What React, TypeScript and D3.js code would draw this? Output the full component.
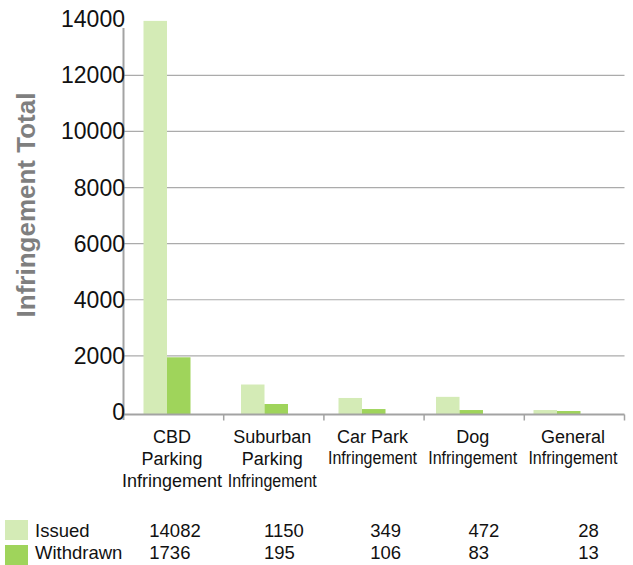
import * as d3 from 'd3'
import React from 'react'

const categories = ['CBD', 'Suburban', 'Car Park', 'Dog', 'General']
const categoryLines = [
  ['CBD', 'Parking', 'Infringement'],
  ['Suburban', 'Parking', 'Infringement'],
  ['Car Park', 'Infringement'],
  ['Dog', 'Infringement'],
  ['General', 'Infringement'],
]
const series = ['Issued', 'Withdrawn']
// bar heights as drawn in the picture
const issuedBars = [13940, 980, 500, 540, 70]
const withdrawnBars = [1950, 285, 105, 70, 35]
// values printed in the data table
const issuedTable = [14082, 1150, 349, 472, 28]
const withdrawnTable = [1736, 195, 106, 83, 13]
const yTicks = [0, 2000, 4000, 6000, 8000, 10000, 12000, 14000]

const colors = ['#d4ebb6', '#9fd45b']
const font = 'Liberation Sans, Arial, Helvetica, sans-serif'
const W = 633, H = 565
const tableCols = [149.3, 264, 370.3, 468.5, 578.3]

export default function App() {
  const
    left = 123.5, right = 624.5,
    y = d3.scaleLinear().domain([0, 14000]).range([412, 19.2]),
    base = y(0) + 2.5,
    x = d3.scaleBand<string>().domain(categories).range([left, right]),
    xBar = d3.scaleBand<string>().domain(categories).range([118.25, 605.75]),
    groupW = 47,
    sub = d3.scaleBand<string>().domain(series).range([0, groupW]),
    barData = [issuedBars, withdrawnBars],
    tableData = [issuedTable, withdrawnTable]

  return (
    <svg width={W} height={H} style={{ position: 'absolute', left: 0, top: 0, background: '#fff' }} fontFamily={font}>
      {yTicks.filter(t => t > 0 && t < 14000).map(t => (
        <line key={t} x1={left} x2={right} y1={y(t)} y2={y(t)} stroke='#ababab' strokeWidth={1.2} />
      ))}
      {categories.map((c, i) => series.map((s, j) => {
        const v = barData[j][i], top = y(v)
        return <rect key={c + s} x={xBar(c)! + xBar.bandwidth() / 2 - groupW / 2 + sub(s)!} y={top}
          width={sub.bandwidth()} height={base - top} fill={colors[j]} />
      }))}
      <line x1={left} x2={left} y1={28} y2={420} stroke='#a3a3a3' strokeWidth={2} />
      <line x1={left} x2={right} y1={base} y2={base} stroke='#a3a3a3' strokeWidth={2} />
      {categories.map(c => {
        const xe = x(c)! + x.bandwidth()
        return <line key={c} x1={xe} x2={xe} y1={base} y2={base + 6} stroke='#a3a3a3' strokeWidth={1.5} />
      })}
      {yTicks.map(t => (
        <text key={t} x={125} y={y(t)} dy='0.35em' textAnchor='end' fontSize={23} fill='#111'>{t}</text>
      ))}
      <text transform={`translate(35,205) rotate(-90)`} textAnchor='middle' fontSize={26}
        fontWeight='bold' fill='#7f7f7f'>Infringement Total</text>
      {categories.map((c, i) => {
        const cx = x(c)! + x.bandwidth() / 2 - 1.5
        const lines = categoryLines[i]
        return lines.map((ln, k) => {
          const squeeze = i > 0 && ln === 'Infringement'
          const yy = lines.length === 3 ? 442.7 + k * 22 : 442.7 + k * 20.8
          return <text key={c + k} x={cx} y={yy} textAnchor='middle' fontSize={18} fill='#111'
            {...(squeeze ? { textLength: 89, lengthAdjust: 'spacingAndGlyphs' } : {})}>{ln}</text>
        })
      })}
      {series.map((s, j) => (
        <g key={s}>
          <rect x={5} y={520 + j * 25} width={23} height={20} fill={colors[j]} />
          <text x={35} y={537.3 + j * 21.7} fontSize={18.5} fill='#111'>{s}</text>
          {tableData[j].map((v, i) => (
            <text key={i} x={tableCols[i]} y={537.3 + j * 21.7} fontSize={18.5} fill='#111'>{v}</text>
          ))}
        </g>
      ))}
    </svg>
  )
}
